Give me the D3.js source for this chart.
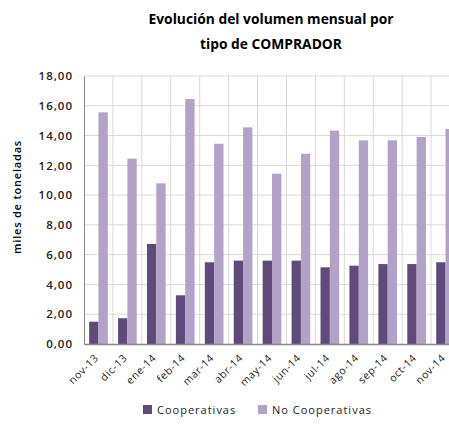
<!DOCTYPE html>
<html>
<head>
<meta charset="utf-8">
<script src="https://cdn.jsdelivr.net/npm/d3@7"></script>
<style>
  body { margin: 0; background: #fff; }
  svg { display: block; font-family: "Open Sans", sans-serif; }
</style>
</head>
<body>
<div class="chart"></div>
<script>
const months = ['nov-13', 'dic-13', 'ene-14', 'feb-14', 'mar-14', 'abr-14', 'may-14',
                'jun-14', 'jul-14', 'ago-14', 'sep-14', 'oct-14', 'nov-14'];
const cooperativas = [1.50, 1.73, 6.72, 3.27, 5.49, 5.60, 5.60, 5.60, 5.15, 5.26, 5.37, 5.37, 5.49];
const noCooperativas = [15.56, 12.45, 10.79, 16.45, 13.45, 14.55, 11.44, 12.78, 14.33, 13.68, 13.68, 13.90, 14.44];
const seriesNames = ['Cooperativas', 'No Cooperativas'];
const yTicks = [0, 2, 4, 6, 8, 10, 12, 14, 16, 18];

const width = 449, height = 428;
const plot = { left: 84, right: 460, top: 76, bottom: 344 };
const colors = ['#604a7b', '#b3a2c7'];

const svg = d3.select('.chart').append('svg')
    .attr('width', width)
    .attr('height', height);

const x = d3.scaleBand()
    .domain(months)
    .range([plot.left, plot.right]);

const inner = d3.scaleBand()
    .domain(seriesNames)
    .range([0, x.bandwidth()])
    .paddingOuter(0.55)
    .paddingInner(0);

const y = d3.scaleLinear()
    .domain([0, 18])
    .range([plot.bottom, plot.top]);

// Title.
[['Evolución del volumen mensual por', 24], ['tipo de COMPRADOR', 49]].forEach(([t, ty]) => {
  svg.append('text')
      .attr('x', 271).attr('y', ty)
      .attr('text-anchor', 'middle')
      .attr('font-weight', 'bold')
      .attr('font-size', 13.8)
      .attr('fill', '#000')
      .text(t);
});

// Horizontal grid.
svg.append('g')
    .selectAll('line')
    .data(yTicks.slice(1))
    .enter().append('line')
    .attr('x1', plot.left).attr('x2', width)
    .attr('y1', (d) => y(d)).attr('y2', (d) => y(d))
    .attr('stroke', '#d9d9d9')
    .attr('stroke-width', 1);

// Vertical grid at category boundaries.
svg.append('g')
    .selectAll('line')
    .data(months.slice(1))
    .enter().append('line')
    .attr('x1', (d) => x(d)).attr('x2', (d) => x(d))
    .attr('y1', plot.top).attr('y2', plot.bottom)
    .attr('stroke', '#d9d9d9')
    .attr('stroke-width', 1);

// Bars.
const groups = svg.append('g')
    .selectAll('g')
    .data(months)
    .enter().append('g')
    .attr('transform', (d) => `translate(${x(d)},0)`);

groups.selectAll('rect')
    .data((d, i) => [
      { key: seriesNames[0], value: cooperativas[i] },
      { key: seriesNames[1], value: noCooperativas[i] }
    ])
    .enter().append('rect')
    .attr('x', (d) => inner(d.key))
    .attr('width', inner.bandwidth())
    .attr('y', (d) => y(d.value))
    .attr('height', (d) => y(0) - y(d.value))
    .attr('fill', (d, i) => colors[i]);

// Y axis.
const yAxis = svg.append('g')
    .attr('transform', `translate(${plot.left},0)`)
    .call(d3.axisLeft(y)
      .tickValues(yTicks)
      .tickSize(0)
      .tickPadding(11)
      .tickFormat((d) => d3.format('.2f')(d).replace('.', ',')));
yAxis.select('.domain').attr('stroke', '#868686');
yAxis.selectAll('text')
    .attr('font-size', 11.5)
    .attr('font-weight', 600)
    .attr('letter-spacing', 1)
    .attr('fill', '#222')
    .attr('font-family', '"Open Sans", sans-serif');

// X axis.
const xAxis = svg.append('g')
    .attr('transform', `translate(0,${plot.bottom})`)
    .call(d3.axisBottom(x).tickSize(0).tickFormat(''));
xAxis.select('.domain').attr('stroke', '#868686').attr('stroke-width', 1.5);

svg.append('g')
    .selectAll('text')
    .data(months)
    .enter().append('text')
    .attr('transform', (d) => `translate(${x(d) + x.bandwidth() / 2 - 2},${plot.bottom + 12}) rotate(-45)`)
    .attr('text-anchor', 'end')
    .attr('dy', '0.35em')
    .attr('font-size', 10.5)
    .attr('letter-spacing', 0.6)
    .attr('fill', '#222')
    .text((d) => d);

// Y axis title.
svg.append('text')
    .attr('transform', 'translate(21,197) rotate(-90)')
    .attr('text-anchor', 'middle')
    .attr('font-size', 11)
    .attr('font-weight', 600)
    .attr('letter-spacing', 0.8)
    .attr('fill', '#000')
    .text('miles de toneladas');

// Legend.
const legendX = [143, 258];
const legend = svg.append('g')
    .selectAll('g')
    .data(seriesNames)
    .enter().append('g')
    .attr('transform', (d, i) => `translate(${legendX[i]},405)`);
legend.append('rect')
    .attr('width', 9).attr('height', 9)
    .attr('fill', (d, i) => colors[i]);
legend.append('text')
    .attr('x', 14).attr('y', 9)
    .attr('font-size', 11)
    .attr('letter-spacing', 1)
    .attr('fill', '#222')
    .text((d) => d);
</script>
</body>
</html>
